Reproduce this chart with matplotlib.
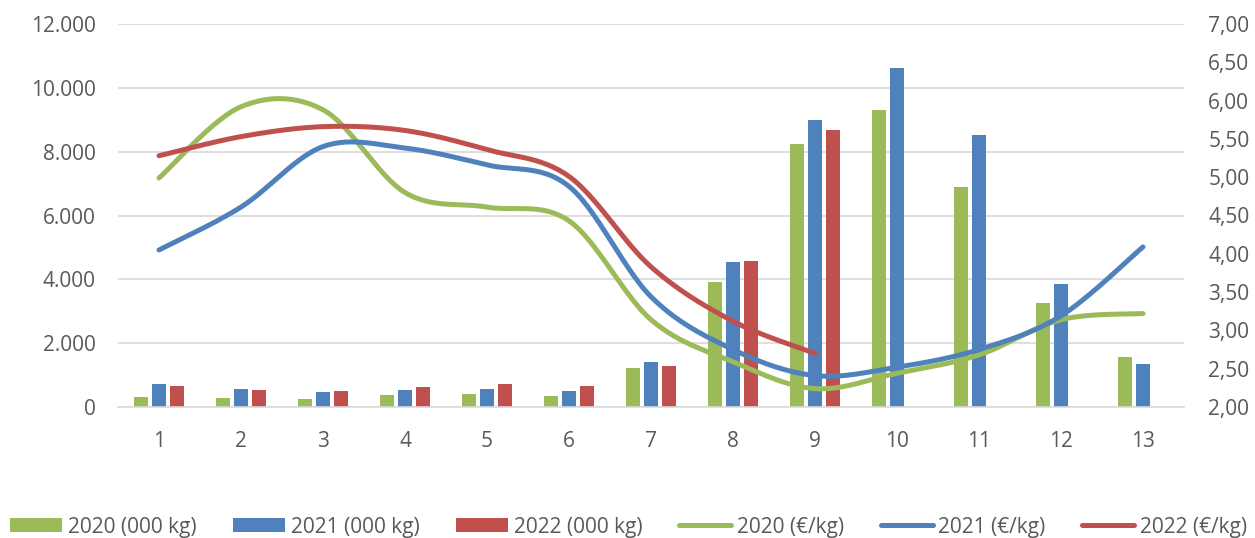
import numpy as np
import matplotlib
matplotlib.use("Agg")
import matplotlib.pyplot as plt
from matplotlib.ticker import FuncFormatter

plt.rcParams['font.family'] = ['Open Sans', 'DejaVu Sans']

# Weekly volumes (000 kg) and prices (€/kg)
weeks = list(range(1, 14))
kg_2020 = [305, 270, 250, 385, 415, 335, 1222, 3930, 8255, 9310, 6908, 3250, 1567]
kg_2021 = [720, 555, 470, 525, 565, 510, 1410, 4535, 8995, 10607, 8527, 3846, 1357]
kg_2022 = [660, 535, 500, 625, 720, 660, 1275, 4590, 8665]

price_2020 = [4.99, 5.92, 5.88, 4.80, 4.61, 4.43, 3.14, 2.59, 2.24, 2.44, 2.68, 3.14, 3.22]
price_2021 = [4.05, 4.61, 5.40, 5.38, 5.16, 4.88, 3.44, 2.75, 2.41, 2.52, 2.75, 3.19, 4.09]
price_2022 = [5.28, 5.53, 5.66, 5.61, 5.36, 5.01, 3.83, 3.12, 2.70]

GREEN = '#9BBB59'
BLUE = '#4F81BD'
RED = '#C0504D'
TEXT = '#595959'
GRID = '#D9D9D9'


def smooth(x, y, steps=30):
    # bezier smoothing with control points at 1/6 of the neighbour chord
    p = np.column_stack([x, y]).astype(float)
    p = np.vstack([p[0], p, p[-1]])
    out = []
    for i in range(1, len(p) - 2):
        p0, p1 = p[i], p[i + 1]
        c1 = p0 + (p[i + 1] - p[i - 1]) / 6
        c2 = p1 - (p[i + 2] - p[i]) / 6
        t = np.linspace(0, 1, steps)[:, None]
        seg = ((1 - t) ** 3 * p0 + 3 * (1 - t) ** 2 * t * c1
               + 3 * (1 - t) * t ** 2 * c2 + t ** 3 * p1)
        out.append(seg if i == 1 else seg[1:])
    out = np.vstack(out)
    return out[:, 0], out[:, 1]


fig = plt.figure(figsize=(12.55, 5.38), dpi=100)
ax = fig.add_axes([118 / 1255, 1 - 407 / 538, (1184 - 118) / 1255, (407 - 24) / 538])
ax2 = ax.twinx()

bw = 0.167
off = 0.22
ax.bar(np.array(weeks) - off, kg_2020, bw, color=GREEN, label='2020 (000 kg)', zorder=2)
ax.bar(np.array(weeks), kg_2021, bw, color=BLUE, label='2021 (000 kg)', zorder=2)
ax.bar(np.arange(1, len(kg_2022) + 1) + off, kg_2022, bw, color=RED,
       label='2022 (000 kg)', zorder=2)

for vals, col, lab in [(price_2020, GREEN, '2020 (€/kg)'),
                       (price_2021, BLUE, '2021 (€/kg)'),
                       (price_2022, RED, '2022 (€/kg)')]:
    sx, sy = smooth(np.arange(1, len(vals) + 1), vals)
    ax2.plot(sx, sy, color=col, lw=3.6, solid_capstyle='round', label=lab)

ax.set_xlim(0.5, 13.5)
ax.set_ylim(0, 12000)
ax.set_yticks(range(0, 12001, 2000))
ax.yaxis.set_major_formatter(FuncFormatter(lambda v, _: f"{int(v):,}".replace(',', '.')))
ax.set_xticks(weeks)
ax.set_xticklabels([str(w) for w in weeks])
ax2.set_ylim(2, 7)
ax2.set_yticks(np.arange(2, 7.01, 0.5))
ax2.yaxis.set_major_formatter(FuncFormatter(lambda v, _: f"{v:.2f}".replace('.', ',')))

ax.grid(axis='y', color=GRID, lw=1.2, zorder=0)
ax.set_axisbelow(True)
for a in (ax, ax2):
    for s in a.spines.values():
        s.set_visible(False)
ax.spines['bottom'].set_visible(True)
ax.spines['bottom'].set_color(GRID)
ax.spines['bottom'].set_linewidth(1.2)

ax.tick_params(axis='x', length=0, pad=17, labelsize=15, labelcolor=TEXT)
ax.tick_params(axis='y', length=0, pad=16, labelsize=15, labelcolor=TEXT)
ax2.tick_params(axis='y', length=0, pad=17.5, labelsize=15, labelcolor=TEXT)

h1, l1 = ax.get_legend_handles_labels()
h2, l2 = ax2.get_legend_handles_labels()
fig.legend(h1 + h2, l1 + l2, loc='center left', bbox_to_anchor=(10 / 1255, 1 - 527 / 538),
           ncol=6, frameon=False, fontsize=15, labelcolor=TEXT, borderpad=0,
           borderaxespad=0, handlelength=2.5, handleheight=0.62, handletextpad=0.27,
           columnspacing=1.76)

fig.savefig('out.png', dpi=100)
